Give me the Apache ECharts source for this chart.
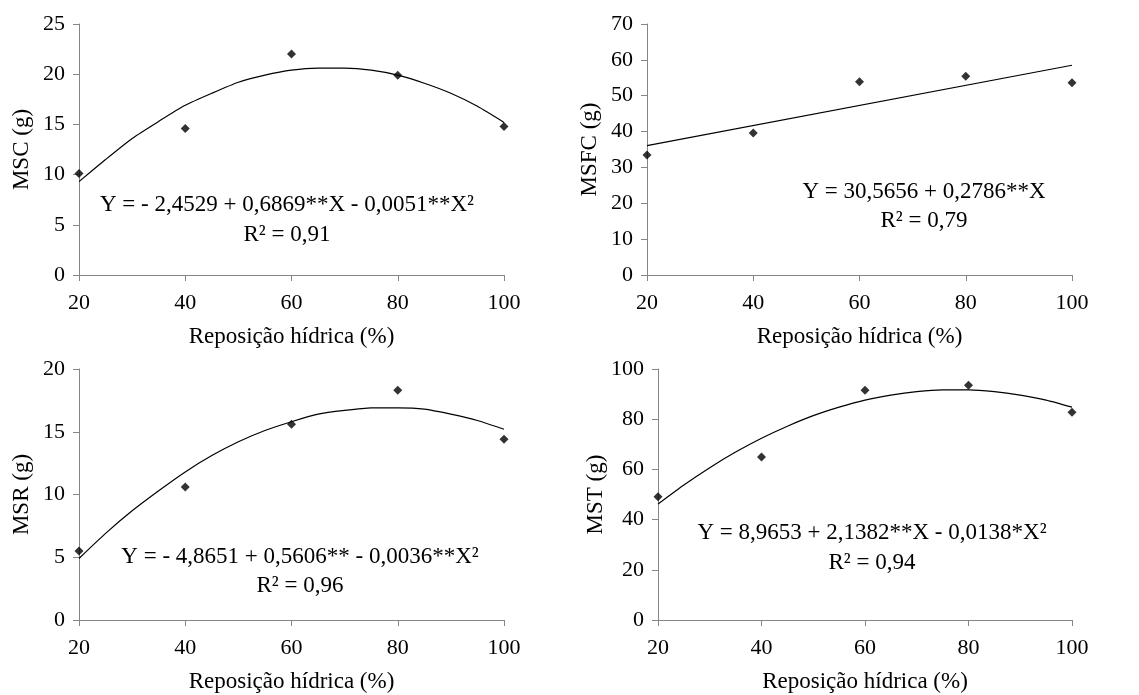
<!DOCTYPE html>
<html>
<head>
<meta charset="utf-8">
<script src="https://cdn.jsdelivr.net/npm/echarts@6/dist/echarts.min.js"></script>
<style>
  html, body { margin: 0; padding: 0; background: #fff; }
  #main { width: 1139px; height: 695px; }
</style>
</head>
<body>
<div id="main"></div>
<script>
// observed points
var xObs = [20, 40, 60, 80, 100];
var mscObs = [10.1, 14.6, 22.0, 19.9, 14.8];
var msfcObs = [33.5, 39.6, 53.9, 55.4, 53.6];
var msrObs = [5.5, 10.6, 15.6, 18.3, 14.4];
var mstObs = [49.1, 64.9, 91.5, 93.5, 82.8];

// trend lines
var xFit = [20, 25, 30, 35, 40, 45, 50, 55, 60, 65, 70, 75, 80, 85, 90, 95, 100];
var mscFit = [9.3, 11.5, 13.6, 15.3, 16.9, 18.1, 19.2, 19.9, 20.4, 20.6, 20.6, 20.4, 19.9, 19.1, 18.1, 16.8, 15.2];
var msrFit = [4.9, 6.9, 8.7, 10.3, 11.8, 13.1, 14.2, 15.1, 15.8, 16.4, 16.7, 16.9, 16.9, 16.8, 16.4, 15.9, 15.2];
var mstFit = [46.2, 53.8, 60.7, 66.9, 72.4, 77.2, 81.4, 84.8, 87.6, 89.6, 91.0, 91.7, 91.7, 91.0, 89.6, 87.6, 84.8];
var xLin = [20, 100];
var msfcFit = [36.1, 58.5];

var yNames = ["MSC (g)", "MSFC (g)", "MSR (g)", "MST (g)"];
var yMax = [25, 70, 20, 100];
var yStep = [5, 10, 5, 20];
var equations = [
  "Y = - 2,4529 + 0,6869**X - 0,0051**X²",
  "Y = 30,5656 + 0,2786**X",
  "Y = - 4,8651 + 0,5606** - 0,0036**X²",
  "Y = 8,9653 + 2,1382**X - 0,0138*X²"
];
var r2Labels = ["R² = 0,91", "R² = 0,79", "R² = 0,96", "R² = 0,94"];

var font = "Liberation Serif";
var fs = 22;    // tick labels
var fsBig = 23; // axis names, equations
var grids = [
  { left: 79, right: 635, top: 24, height: 251 },
  { left: 647, right: 67, top: 24, height: 251 },
  { left: 79, right: 635, top: 369, height: 251 },
  { left: 658, right: 67, top: 369, height: 251 }
];
var textPos = [
  [[287, 205], [287, 235]],
  [[924, 192], [924, 221]],
  [[300, 557], [300, 586]],
  [[872, 533], [872, 563]]
];

function pairs(xs, ys) {
  return xs.map(function (x, i) { return [x, ys[i]]; });
}
var obs = [mscObs, msfcObs, msrObs, mstObs];
var fits = [pairs(xFit, mscFit), pairs(xLin, msfcFit), pairs(xFit, msrFit), pairs(xFit, mstFit)];

var axisLine = { show: true, lineStyle: { color: "#868686", width: 1 } };
var xAxes = [], yAxes = [], series = [], graphics = [];
for (var i = 0; i < 4; i++) {
  xAxes.push({
    gridIndex: i, type: "value", min: 20, max: 100, interval: 20,
    name: "Reposição hídrica (%)", nameLocation: "middle", nameGap: 50,
    nameTextStyle: { color: "#000", fontFamily: font, fontSize: fsBig },
    axisLine: axisLine,
    axisTick: { show: true, length: 6, lineStyle: { color: "#868686" } },
    axisLabel: { color: "#000", fontFamily: font, fontSize: fs, margin: 17 },
    splitLine: { show: false }
  });
  yAxes.push({
    gridIndex: i, type: "value", min: 0, max: yMax[i], interval: yStep[i],
    name: yNames[i], nameLocation: "middle", nameGap: 46,
    nameTextStyle: { color: "#000", fontFamily: font, fontSize: fsBig },
    axisLine: axisLine,
    axisTick: { show: true, length: 6, lineStyle: { color: "#868686" } },
    axisLabel: { color: "#000", fontFamily: font, fontSize: fs, margin: 14 },
    splitLine: { show: false }
  });
  series.push({
    type: "line", xAxisIndex: i, yAxisIndex: i, data: fits[i],
    smooth: 0.2, showSymbol: false, symbol: "none",
    lineStyle: { color: "#000", width: 1.2 }, z: 2
  });
  series.push({
    type: "scatter", xAxisIndex: i, yAxisIndex: i, data: pairs(xObs, obs[i]),
    symbol: "diamond", symbolSize: 9,
    itemStyle: { color: "#000" }, z: 3
  });
  graphics.push({
    type: "text", x: textPos[i][0][0], y: textPos[i][0][1],
    style: { text: equations[i], fill: "#000", font: fsBig + "px '" + font + "'", align: "center", verticalAlign: "middle" }
  });
  graphics.push({
    type: "text", x: textPos[i][1][0], y: textPos[i][1][1],
    style: { text: r2Labels[i], fill: "#000", font: fsBig + "px '" + font + "'", align: "center", verticalAlign: "middle" }
  });
}

var chart = echarts.init(document.getElementById("main"));
chart.setOption({
  animation: false,
  backgroundColor: "#fff",
  grid: grids,
  xAxis: xAxes,
  yAxis: yAxes,
  series: series,
  graphic: graphics
});
</script>
</body>
</html>
